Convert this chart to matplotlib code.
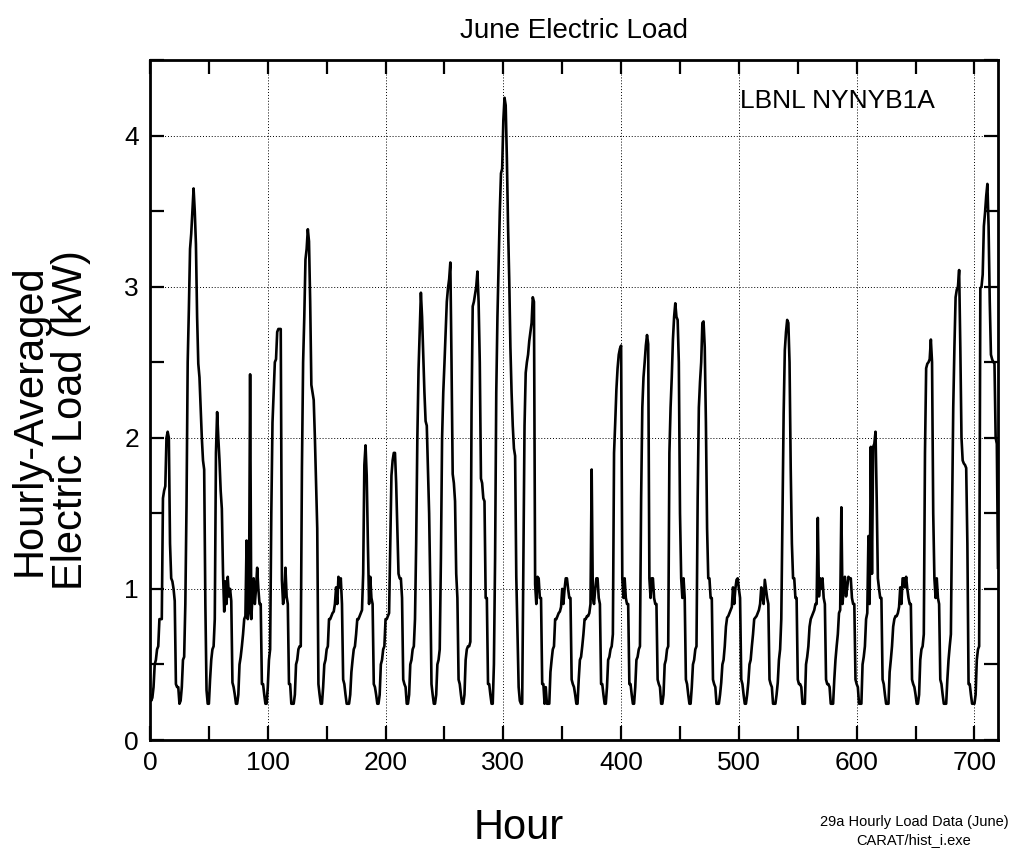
import numpy as np
import matplotlib
matplotlib.use("Agg")
import matplotlib.pyplot as plt
from matplotlib.ticker import MultipleLocator

plt.rcParams['font.family'] = ['Liberation Sans', 'DejaVu Sans']

# hourly averaged load (kW), one list per day of June
d01 = [0.30, 0.26, 0.28, 0.35, 0.50, 0.53, 0.60, 0.62, 0.80, 0.80, 0.80, 1.60, 1.65, 1.68, 2.00, 2.04, 2.00, 1.30, 1.07, 1.05, 1.00, 0.92, 0.37, 0.35]
d02 = [0.35, 0.24, 0.26, 0.35, 0.53, 0.55, 0.90, 1.55, 2.50, 2.85, 3.25, 3.35, 3.50, 3.65, 3.50, 3.28, 2.80, 2.49, 2.40, 2.20, 2.00, 1.85, 1.79, 0.90]
d03 = [0.33, 0.24, 0.24, 0.40, 0.53, 0.60, 0.62, 0.80, 1.90, 2.17, 2.00, 1.85, 1.65, 1.53, 1.10, 0.85, 1.05, 0.90, 1.08, 0.95, 1.00, 0.92, 0.38, 0.35]
d04 = [0.30, 0.24, 0.24, 0.30, 0.50, 0.55, 0.62, 0.70, 0.80, 0.82, 1.32, 0.80, 0.85, 2.42, 0.80, 0.95, 1.07, 0.90, 1.00, 1.14, 1.00, 0.90, 0.90, 0.37]
d05 = [0.37, 0.30, 0.24, 0.24, 0.35, 0.53, 0.60, 1.50, 2.10, 2.30, 2.50, 2.52, 2.70, 2.72, 2.72, 2.72, 1.06, 0.90, 0.95, 1.14, 0.95, 0.90, 0.37, 0.37]
d06 = [0.24, 0.24, 0.24, 0.30, 0.50, 0.53, 0.60, 0.62, 0.62, 1.80, 2.50, 2.80, 3.18, 3.25, 3.38, 3.30, 2.90, 2.35, 2.30, 2.25, 2.00, 1.70, 1.40, 0.37]
d07 = [0.30, 0.24, 0.24, 0.35, 0.50, 0.53, 0.60, 0.62, 0.80, 0.80, 0.82, 0.84, 0.85, 0.90, 1.01, 0.90, 1.08, 1.01, 1.07, 0.90, 0.40, 0.37, 0.30, 0.24]
d08 = [0.24, 0.24, 0.30, 0.45, 0.53, 0.60, 0.62, 0.70, 0.80, 0.80, 0.82, 0.84, 0.86, 1.10, 1.82, 1.95, 1.75, 1.30, 0.90, 1.08, 0.94, 0.90, 0.37, 0.35]
d09 = [0.30, 0.24, 0.24, 0.30, 0.50, 0.53, 0.60, 0.62, 0.80, 0.80, 0.82, 0.84, 1.30, 1.75, 1.85, 1.90, 1.90, 1.70, 1.40, 1.10, 1.07, 1.07, 0.94, 0.40]
d10 = [0.37, 0.35, 0.24, 0.24, 0.30, 0.50, 0.53, 0.60, 0.62, 0.80, 1.30, 2.00, 2.45, 2.70, 2.96, 2.80, 2.55, 2.30, 2.11, 2.08, 1.80, 1.50, 1.00, 0.37]
d11 = [0.30, 0.24, 0.24, 0.30, 0.50, 0.53, 0.60, 1.20, 2.00, 2.30, 2.49, 2.70, 2.90, 2.99, 3.05, 3.16, 2.50, 1.76, 1.70, 1.58, 1.10, 0.94, 0.40, 0.37]
d12 = [0.30, 0.24, 0.24, 0.30, 0.53, 0.60, 0.62, 0.62, 0.65, 2.17, 2.87, 2.90, 2.95, 3.00, 3.10, 2.90, 2.50, 1.73, 1.70, 1.60, 1.58, 0.94, 0.94, 0.37]
d13 = [0.37, 0.30, 0.24, 0.24, 0.50, 1.20, 2.30, 2.80, 3.14, 3.50, 3.75, 3.78, 4.10, 4.25, 4.20, 3.85, 3.40, 3.05, 2.60, 2.30, 2.08, 1.93, 1.88, 1.08]
d14 = [0.70, 0.35, 0.26, 0.24, 0.24, 1.20, 2.08, 2.43, 2.50, 2.55, 2.64, 2.70, 2.76, 2.93, 2.90, 1.03, 0.90, 1.08, 1.07, 0.94, 0.94, 0.37, 0.37, 0.24]
d15 = [0.35, 0.24, 0.24, 0.24, 0.45, 0.53, 0.60, 0.62, 0.80, 0.80, 0.82, 0.84, 0.85, 0.88, 1.00, 0.90, 1.00, 1.07, 1.07, 1.00, 0.94, 0.94, 0.40, 0.37]
d16 = [0.35, 0.30, 0.24, 0.24, 0.40, 0.53, 0.55, 0.62, 0.70, 0.80, 0.80, 0.82, 0.82, 0.84, 0.90, 1.79, 0.94, 0.90, 1.00, 1.07, 1.07, 0.94, 0.90, 0.37]
d17 = [0.37, 0.30, 0.24, 0.24, 0.35, 0.53, 0.55, 0.60, 0.62, 0.70, 1.90, 2.10, 2.32, 2.46, 2.55, 2.59, 2.61, 1.07, 0.94, 1.07, 0.94, 0.90, 0.90, 0.37]
d18 = [0.37, 0.30, 0.24, 0.24, 0.35, 0.53, 0.55, 0.60, 0.62, 1.60, 2.20, 2.40, 2.50, 2.61, 2.68, 2.62, 1.07, 0.94, 1.07, 1.07, 0.94, 0.90, 0.90, 0.40]
d19 = [0.37, 0.35, 0.24, 0.24, 0.30, 0.50, 0.53, 0.60, 0.62, 1.90, 2.20, 2.40, 2.65, 2.80, 2.89, 2.80, 2.78, 2.50, 1.50, 1.07, 0.94, 1.07, 0.94, 0.40]
d20 = [0.37, 0.30, 0.24, 0.24, 0.35, 0.50, 0.53, 0.60, 0.62, 1.60, 2.20, 2.37, 2.50, 2.76, 2.77, 2.60, 2.10, 1.40, 1.07, 1.07, 0.94, 0.94, 0.40, 0.37]
d21 = [0.35, 0.24, 0.24, 0.24, 0.30, 0.38, 0.50, 0.53, 0.62, 0.75, 0.81, 0.82, 0.84, 0.86, 0.88, 1.01, 0.90, 1.00, 1.06, 1.07, 1.00, 0.94, 0.40, 0.37]
d22 = [0.30, 0.24, 0.24, 0.30, 0.38, 0.50, 0.53, 0.62, 0.70, 0.80, 0.81, 0.82, 0.84, 0.86, 0.90, 1.01, 0.95, 0.90, 1.06, 1.00, 0.94, 0.90, 0.40, 0.37]
d23 = [0.35, 0.24, 0.24, 0.24, 0.30, 0.38, 0.53, 0.60, 0.80, 1.50, 2.16, 2.58, 2.70, 2.78, 2.76, 2.50, 1.80, 1.30, 1.07, 1.07, 0.94, 0.94, 0.40, 0.37]
d24 = [0.37, 0.35, 0.24, 0.24, 0.24, 0.50, 0.55, 0.62, 0.75, 0.80, 0.82, 0.84, 0.86, 0.90, 0.90, 1.47, 0.95, 1.07, 1.00, 1.07, 0.94, 0.90, 0.40, 0.37]
d25 = [0.37, 0.35, 0.24, 0.24, 0.24, 0.40, 0.53, 0.62, 0.70, 0.84, 0.86, 1.54, 0.90, 1.01, 1.08, 0.95, 1.01, 1.08, 1.07, 1.07, 0.94, 0.90, 0.90, 0.40]
d26 = [0.37, 0.35, 0.24, 0.24, 0.24, 0.50, 0.55, 0.62, 0.80, 0.84, 1.35, 0.90, 1.94, 1.10, 1.94, 1.96, 2.04, 1.60, 1.07, 1.00, 0.94, 0.94, 0.40, 0.37]
d27 = [0.30, 0.24, 0.24, 0.24, 0.45, 0.53, 0.62, 0.75, 0.80, 0.82, 0.82, 0.84, 0.88, 1.01, 0.90, 1.07, 1.07, 1.01, 1.08, 1.00, 0.94, 0.90, 0.90, 0.40]
d28 = [0.37, 0.35, 0.30, 0.24, 0.24, 0.30, 0.53, 0.60, 0.62, 0.70, 1.90, 2.46, 2.49, 2.50, 2.52, 2.65, 2.50, 1.50, 1.07, 0.94, 1.07, 0.94, 0.90, 0.40]
d29 = [0.37, 0.30, 0.24, 0.24, 0.24, 0.40, 0.53, 0.62, 0.70, 1.50, 2.20, 2.60, 2.93, 2.98, 3.00, 3.11, 2.60, 2.00, 1.85, 1.83, 1.82, 1.80, 1.30, 0.37]
# last day also carries the reading at hour 720
d30 = [0.37, 0.30, 0.24, 0.24, 0.24, 0.30, 0.53, 0.60, 0.62, 2.99, 3.00, 3.08, 3.40, 3.49, 3.60, 3.68, 3.40, 2.90, 2.55, 2.52, 2.50, 2.50, 2.00, 1.96, 1.14]

days = [d01, d02, d03, d04, d05, d06, d07, d08, d09, d10, d11, d12, d13, d14, d15,
        d16, d17, d18, d19, d20, d21, d22, d23, d24, d25, d26, d27, d28, d29, d30]
load = np.concatenate(days)
hours = np.arange(len(load))

fig = plt.figure(figsize=(10.1, 8.58), dpi=100)
ax = fig.add_axes([150 / 1010, 1 - 740 / 858, 848 / 1010, 680 / 858])

ax.plot(hours, load, color='black', lw=1.9)

ax.set_xlim(0, 720)
ax.set_ylim(0, 4.5)
ax.set_xticks(range(0, 701, 100))
ax.set_yticks([0, 1, 2, 3, 4])
ax.xaxis.set_minor_locator(MultipleLocator(50))
ax.yaxis.set_minor_locator(MultipleLocator(0.5))
ax.tick_params(which='both', direction='in', top=True, right=True,
               length=10, width=1.6, labelsize=19, pad=8)
ax.grid(True, which='major', color='black', linestyle=(0, (1, 2)), lw=0.7)
for s in ax.spines.values():
    s.set_linewidth(2)

fig.text(574 / 1010, 1 - 31 / 858, 'June Electric Load', ha='center', va='center', fontsize=20)
fig.text(50 / 1010, 1 - 420 / 858, 'Hourly-Averaged\nElectric Load (kW)', rotation=90,
         ha='center', va='center', fontsize=30, linespacing=1.05)
fig.text(519 / 1010, 1 - 828 / 858, 'Hour', ha='center', va='center', fontsize=30)
fig.text(914 / 1010, 1 - 831 / 858, '29a Hourly Load Data (June)\nCARAT/hist_i.exe',
         ha='center', va='center', fontsize=10.5, linespacing=1.35)
fig.text(837 / 1010, 1 - 101 / 858, 'LBNL NYNYB1A', ha='center', va='center', fontsize=19)

fig.savefig('out.png', dpi=100)
